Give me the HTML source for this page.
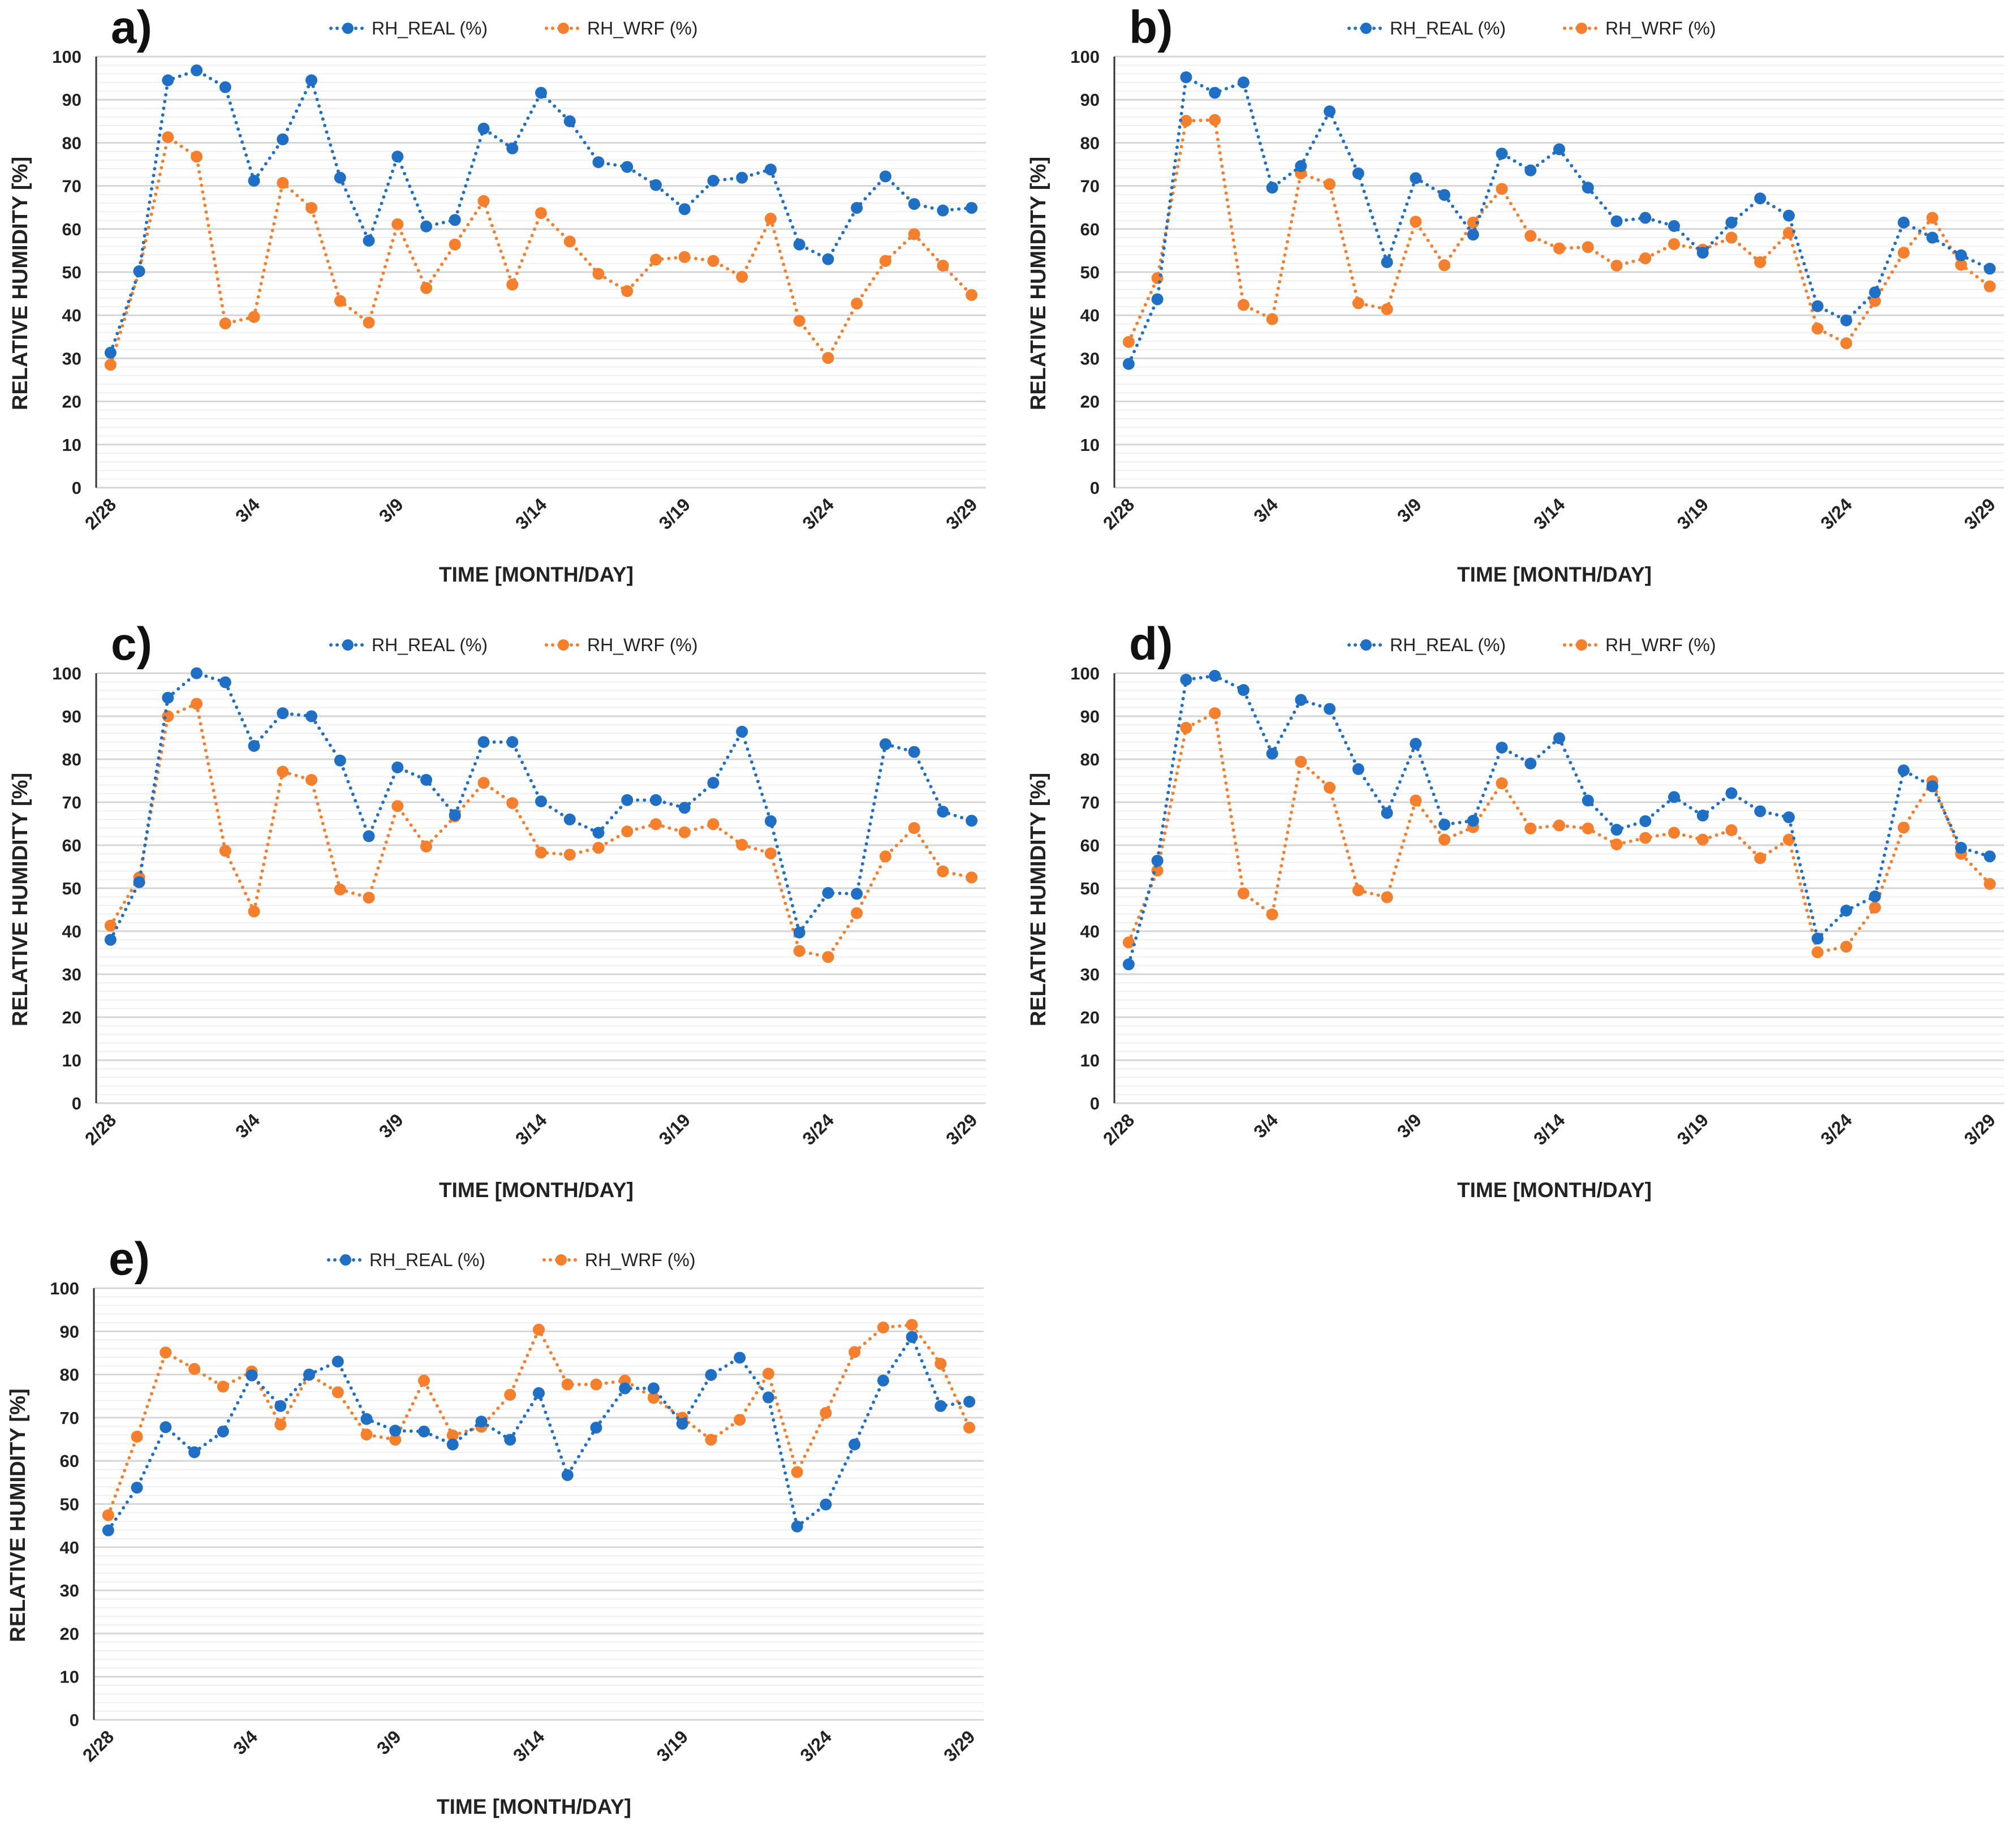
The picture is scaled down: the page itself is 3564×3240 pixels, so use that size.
<!DOCTYPE html>
<html><head><meta charset="utf-8">
<style>
html,body{margin:0;padding:0;background:#fff;}
svg{display:block;font-family:"Liberation Sans",sans-serif;}
</style></head>
<body>
<svg id="fig" width="3564" height="3240" viewBox="0 0 3564 3240" xmlns="http://www.w3.org/2000/svg"></svg>
<script>
const categories = ["2/28","2/29","3/1","3/2","3/3","3/4","3/5","3/6","3/7","3/8","3/9","3/10","3/11","3/12","3/13","3/14","3/15","3/16","3/17","3/18","3/19","3/20","3/21","3/22","3/23","3/24","3/25","3/26","3/27","3/28","3/29"];
const xTickLabels = ["2/28","3/4","3/9","3/14","3/19","3/24","3/29"];
const yTicks = [0,10,20,30,40,50,60,70,80,90,100];
const panelNames = ["a","b","c","d","e"];
const realA = [31.3,50.2,94.5,96.8,92.9,71.2,80.8,94.5,71.9,57.3,76.8,60.6,62.1,83.3,78.7,91.6,85.0,75.5,74.4,70.2,64.6,71.2,71.9,73.8,56.4,53.0,64.9,72.2,65.8,64.3,64.9];
const wrfA = [28.5,50.2,81.3,76.8,38.1,39.6,70.7,64.9,43.3,38.3,61.1,46.3,56.4,66.5,47.1,63.7,57.1,49.6,45.6,52.9,53.5,52.6,48.9,62.4,38.7,30.1,42.7,52.6,58.8,51.5,44.7];
const realB = [28.7,43.7,95.2,91.6,94.0,69.6,74.6,87.3,72.9,52.3,71.8,67.9,58.7,77.5,73.6,78.5,69.6,61.8,62.6,60.7,54.5,61.5,67.1,63.1,42.1,38.8,45.3,61.5,58.0,53.9,50.8];
const wrfB = [33.8,48.6,85.1,85.3,42.4,39.1,72.9,70.4,42.8,41.4,61.7,51.6,61.5,69.3,58.4,55.5,55.8,51.5,53.2,56.5,55.2,58.0,52.3,59.1,36.9,33.5,43.3,54.5,62.6,51.7,46.7];
const realC = [38.0,51.4,94.3,100,97.9,83.1,90.7,90.0,79.7,62.1,78.1,75.2,67.0,84.0,84.0,70.2,66.0,62.9,70.5,70.5,68.7,74.5,86.4,65.6,39.7,48.9,48.7,83.5,81.7,67.8,65.7];
const wrfC = [41.3,52.5,90.0,92.9,58.7,44.6,77.1,75.2,49.7,47.8,69.1,59.7,66.7,74.5,69.8,58.3,57.8,59.4,63.2,64.9,63.0,64.9,60.1,58.1,35.4,34.0,44.2,57.4,64.0,53.9,52.5];
const realD = [32.3,56.4,98.5,99.4,96.1,81.3,93.8,91.7,77.7,67.5,83.6,64.8,65.7,82.7,79.0,84.9,70.4,63.6,65.6,71.2,66.9,72.1,67.9,66.5,38.3,44.8,48.1,77.4,73.7,59.4,57.4];
const wrfD = [37.4,54.1,87.3,90.7,48.8,43.9,79.4,73.4,49.5,47.9,70.4,61.3,64.2,74.4,63.9,64.6,63.9,60.2,61.7,62.9,61.3,63.5,57.0,61.3,35.1,36.4,45.5,64.1,74.9,58.0,51.0];
const realE = [43.9,53.8,67.8,62.0,66.8,79.8,72.7,80.0,83.0,69.7,67.0,66.8,63.8,69.1,64.9,75.7,56.7,67.7,76.8,76.8,68.6,79.9,83.9,74.7,44.8,49.9,63.8,78.6,88.7,72.7,73.7];
const wrfE = [47.4,65.6,85.1,81.3,77.2,80.7,68.4,79.9,75.9,66.1,64.9,78.6,65.9,67.9,75.3,90.4,77.7,77.7,78.6,74.6,70.0,64.9,69.5,80.2,57.4,71.1,85.2,90.9,91.5,82.5,67.7];
const realSeries = [realA, realB, realC, realD, realE];
const wrfSeries = [wrfA, wrfB, wrfC, wrfD, wrfE];

const NS = "http://www.w3.org/2000/svg";
const svg = document.getElementById("fig");
const BLUE = "#1f70c4", ORANGE = "#f47f2c";
const layouts = [
  {ox:0, top:100, bot:862},
  {ox:1800, top:100, bot:862},
  {ox:0, top:1190, bot:1950},
  {ox:1800, top:1190, bot:1950},
  {ox:-4, top:2277, bot:3040}
];
function mk(tag, attrs, parent){
  const e = document.createElementNS(NS, tag);
  for (const k in attrs) e.setAttribute(k, attrs[k]);
  (parent||svg).appendChild(e);
  return e;
}
panelNames.forEach((pn, p) => {
  const L = layouts[p];
  const X0 = 170 + L.ox, W = 1573, X1 = X0 + W;
  const g = mk("g", {});
  
  
  const yS = v => L.bot - (v/100)*(L.bot - L.top);
  const xS = i => X0 + (i + 0.5) * W / categories.length;
  for (let v = 2; v < 100; v += 2) {
    if (v % 10 === 0) continue;
    mk("line", {x1:X0, x2:X1, y1:yS(v), y2:yS(v), stroke:"#efefef", "stroke-width":2}, g);
  }
  yTicks.forEach(v => {
    const ln = mk("line", {x1:X0, x2:X1, y1:yS(v), y2:yS(v), stroke:"#d6d6d6", "stroke-width":3}, g);
    
    
    const t = mk("text", {x:X0-26, y:yS(v)+11, "text-anchor":"end", "font-size":31, "font-weight":"bold", fill:"#222"}, g);
    t.textContent = v;
    
    
  });
  const ax = mk("line", {x1:X0, x2:X0, y1:L.top, y2:L.bot, stroke:"#333", "stroke-width":3}, g);
  
  
  xTickLabels.forEach(lbl => {
    const i = categories.indexOf(lbl);
    const x = xS(i) + 12, y = L.bot + 32;
    const t = mk("text", {x:x, y:y, "text-anchor":"end", "font-size":32, "font-weight":"bold", fill:"#222", transform:`rotate(-45 ${x} ${y})`}, g);
    t.textContent = lbl;
    
    
  });
  const cy = (L.top + L.bot)/2 + 20;
  const yt = mk("text", {x:48+L.ox, y:cy, "text-anchor":"middle", "font-size":38, "font-weight":"bold", fill:"#222", transform:`rotate(-90 ${48+L.ox} ${cy})`}, g);
  yt.textContent = "RELATIVE HUMIDITY [%]";
  
  
  const xt = mk("text", {x:948+L.ox, y:L.bot+166, "text-anchor":"middle", "font-size":37, "font-weight":"bold", fill:"#222"}, g);
  xt.textContent = "TIME [MONTH/DAY]";
  
  
  const pl = mk("text", {x:196+L.ox, y:L.top-24, "font-size":82, "font-weight":"bold", fill:"#111"}, g);
  pl.textContent = pn + ")";
  
  
  [["RH_REAL (%)", BLUE, 585], ["RH_WRF (%)", ORANGE, 966]].forEach(([name, col, lx]) => {
    const lg = mk("g", {}, g);
    
    
    const ly = L.top - 50;
    mk("line", {x1:lx+L.ox, x2:lx+60+L.ox, y1:ly, y2:ly, stroke:col, "stroke-width":6, "stroke-dasharray":"0 11", "stroke-linecap":"round"}, lg);
    mk("circle", {cx:lx+30+L.ox, cy:ly, r:10, fill:col}, lg);
    const t = mk("text", {x:lx+72+L.ox, y:ly+11, "font-size":32, fill:"#222"}, lg);
    t.textContent = name;
  });
  [[wrfSeries[p], ORANGE, "wrf"], [realSeries[p], BLUE, "real"]].forEach(([data, col, nm]) => {
    const pts = data.map((v,i) => xS(i).toFixed(1) + "," + yS(v).toFixed(1)).join(" ");
    const pl2 = mk("polyline", {points:pts, fill:"none", stroke:col, "stroke-width":6, "stroke-dasharray":"0 12", "stroke-linecap":"round"}, g);
    
    
    data.forEach((v,i) => {
      const c = mk("circle", {cx:xS(i), cy:yS(v), r:10.5, fill:col}, g);
      
      
    });
  });
});
</script>
</body></html>
